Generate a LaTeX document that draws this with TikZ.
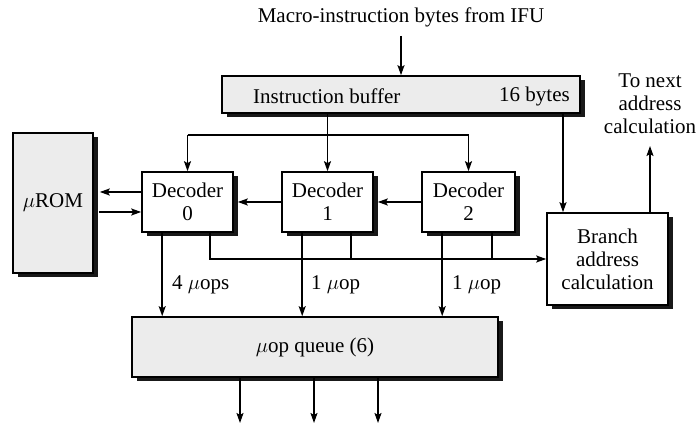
\documentclass[tikz,border=0pt]{standalone}
\usepackage{fontspec}
\setmainfont{Liberation Serif}
\usetikzlibrary{arrows.meta,shadows,calc}
\begin{document}
\begin{tikzpicture}[x=1pt,y=-1pt,
  every node/.style={font=\fontsize{21}{23}\selectfont},
  box/.style={draw=black, line width=1.6pt, inner sep=0pt, align=center,
    drop shadow={shadow xshift=4.5pt, shadow yshift=-4.5pt, opacity=1, fill=black!90}},
  graybox/.style={box, fill=gray!15},
  whitebox/.style={box, fill=white},
  lbl/.style={inner sep=0pt, align=center},
  ln/.style={line width=1.6pt},
  arr/.style={ln, -{Stealth[length=10pt,width=7pt,inset=2pt]}}]
\useasboundingbox (0,0) rectangle (699,427);

% nodes
\node[lbl] (title) at (401,17) {Macro-instruction bytes from IFU};
\node[graybox, minimum width=358pt, minimum height=37pt] (buf) at (401,94.5) {};
\node[lbl, anchor=west] (ibt) at (253,96) {Instruction buffer};
\node[lbl, anchor=east] (ibb) at (570,96) {16 bytes};
\node[graybox, minimum width=80pt, minimum height=140pt] (rom) at (53,203) {$\mu$ROM};
\node[whitebox, minimum width=91pt, minimum height=60pt] (dec0) at (187.5,202) {Decoder\\0};
\node[whitebox, minimum width=91pt, minimum height=60pt] (dec1) at (327.5,202) {Decoder\\1};
\node[whitebox, minimum width=93pt, minimum height=60pt] (dec2) at (468.5,202) {Decoder\\2};
\node[whitebox, minimum width=121pt, minimum height=92pt] (branch) at (607.5,259) {Branch\\address\\calculation};
\node[graybox, minimum width=366pt, minimum height=60pt] (queue) at (315,347) {$\mu$op queue (6)};
\node[lbl] (next) at (650,104) {To next\\address\\calculation};
\node[lbl, anchor=west] (l0) at (172,285) {4 $\mu$ops};
\node[lbl, anchor=west] (l1) at (311,285) {1 $\mu$op};
\node[lbl, anchor=west] (l2) at (452,285) {1 $\mu$op};

% helper coordinates
\coordinate (bus) at (0,135);
\coordinate (bx) at (563,0);
\coordinate (up) at (650,146);
\coordinate (o1) at (240,423);
\coordinate (o2) at (314,423);
\coordinate (o3) at (378,423);

% top
\draw[arr] ($(title.south)+(0,9)$) -- (buf.north);
\draw[arr] (buf.south -| dec1.north) -- (dec1.north);
\draw[ln] (dec0.north |- bus) -- (dec2.north |- bus);
\draw[arr] (dec0.north |- bus) -- (dec0.north);
\draw[arr] (dec2.north |- bus) -- (dec2.north);
\draw[arr] (buf.south -| bx) -- (bx |- branch.north);
\draw[arr] (branch.north -| up) -- (up);

% decoder row
\draw[arr] ($(dec0.west)+(0,-10)$) -- ($(rom.east)+(6,-11)$);
\draw[arr] ($(rom.east)+(5,9)$) -- ($(dec0.west)+(0,10)$);
\draw[arr] (dec1.west) -- ($(dec0.east)+(4,0)$);
\draw[arr] (dec2.west) -- ($(dec1.east)+(4,0)$);

% bottom
\draw[arr] ($(dec0.south west)+(21,0)$) -- ($(queue.north west)+(31,0)$);
\draw[arr] ($(dec1.south west)+(21,0)$) -- ($(queue.north west)+(171,0)$);
\draw[arr] ($(dec2.south west)+(21,0)$) -- ($(queue.north west)+(311,0)$);
\draw[arr] ($(dec0.south west)+(69,0)$) |- (branch.west);
\draw[ln] ($(dec1.south west)+(70,0)$) -- ($(dec1.south west)+(70,27)$);
\draw[ln] ($(dec2.south west)+(71,0)$) -- ($(dec2.south west)+(71,27)$);

% outputs
\draw[arr] (queue.south -| o1) -- (o1);
\draw[arr] (queue.south -| o2) -- (o2);
\draw[arr] (queue.south -| o3) -- (o3);
\end{tikzpicture}
\end{document}
